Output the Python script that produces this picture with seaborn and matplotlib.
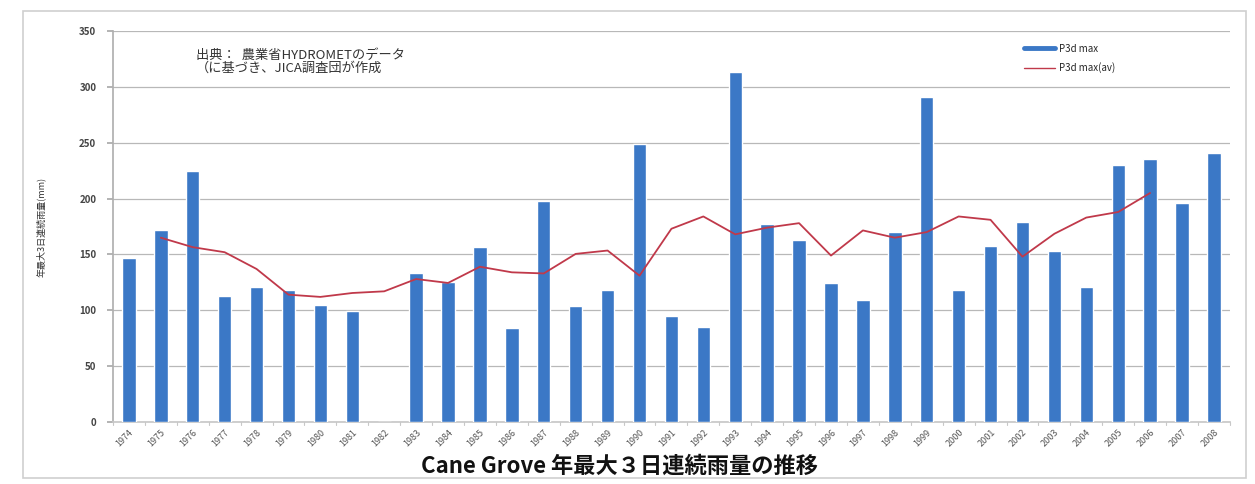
import matplotlib
matplotlib.use("Agg")
import matplotlib.pyplot as plt
from matplotlib.lines import Line2D
import seaborn as sns
import pandas as pd

# Annual maximum 3-day rainfall at Cane Grove
years = [str(y) for y in range(1974, 2009)]
p3d_max = [147, 172, 225, 113, 121, 118, 105, 99, 0, 133, 125, 157, 84,
           198, 104, 118, 249, 95, 85, 313, 177, 163, 124, 109, 170,
           291, 118, 158, 179, 153, 121, 230, 235, 196, 241]

# Moving average, available 1975-2006
avg_years = [str(y) for y in range(1975, 2007)]
p3d_avg = [165, 156.5, 152, 137, 114, 112, 115.5, 117, 128, 124.5, 139, 134,
           133, 150.5, 153.5, 131, 173, 184, 168, 174, 178, 149, 171.5, 165,
           170, 184, 181, 148, 168.5, 183, 188, 205]

y_ticks = [0, 50, 100, 150, 200, 250, 300, 350]

sns.set_theme(style="white")
plt.rcParams["font.family"] = ["Noto Sans CJK JP", "DejaVu Sans"]

BAR = "#3b78c6"
LINE = "#c0394a"

fig = plt.figure(figsize=(12.55, 4.84), dpi=100)
ax = fig.add_axes([0.090, 0.128, 0.890, 0.808])

df = pd.DataFrame({"year": years, "value": p3d_max})
sns.barplot(data=df, x="year", y="value", color=BAR, saturation=1,
            width=0.42, ax=ax, zorder=3)

pos = [years.index(y) for y in avg_years]
sns.lineplot(x=pos, y=p3d_avg, color=LINE, linewidth=1.3, ax=ax,
             legend=False, zorder=4)

ax.set_xlim(-0.5, len(years) - 0.5)
ax.set_ylim(0, 350)
ax.set_yticks(y_ticks)
ax.set_yticklabels([str(v) for v in y_ticks], fontsize=7, color="#444444",
                   fontweight="bold")
ax.yaxis.grid(True, color="#b8b8b8", linewidth=0.9, zorder=0)
ax.set_axisbelow(True)

ax.set_xticks(range(len(years)))
ax.set_xticklabels(years, rotation=45, ha="right", rotation_mode="anchor",
                   fontsize=6.5, color="#555555")
ax.tick_params(axis="x", length=0, pad=4)
ax.tick_params(axis="y", length=4, color="#aaaaaa", left=True, pad=8)

for s in ["top", "right"]:
    ax.spines[s].set_visible(False)
ax.spines["left"].set_color("#b0b0b0")
ax.spines["bottom"].set_color("#c8c8c8")

ax.set_xlabel("")
ax.set_ylabel("年最大3日連続雨量(mm)", fontsize=6.5, color="#333333", labelpad=24)

# Separator ticks between categories
for i in range(len(years) + 1):
    ax.plot([i - 0.5, i - 0.5], [0, -3], color="#c8c8c8", linewidth=0.8,
            clip_on=False, zorder=2)

ax.text(0.074, 0.955, "出典：  農業省HYDROMETのデータ\n（に基づき、JICA調査団が作成",
        transform=ax.transAxes, fontsize=9.5, color="#333333", va="top",
        linespacing=1.0)

handles = [Line2D([0], [0], color=BAR, linewidth=3.5),
           Line2D([0], [0], color=LINE, linewidth=1.0)]
ax.legend(handles, ["P3d max", "P3d max(av)"], loc="upper right",
          bbox_to_anchor=(0.905, 0.99), frameon=False, fontsize=7,
          handlelength=3.2, handletextpad=0.4, labelspacing=0.9)

fig.text(0.494, 0.036, "Cane Grove 年最大３日連続雨量の推移", ha="center",
         va="center", fontsize=16, fontweight="bold", color="#111111")

# Chart frame
fig.patches.append(plt.Rectangle((0.018, 0.012), 0.975, 0.965,
                                 transform=fig.transFigure, fill=False,
                                 edgecolor="#cfcfcf", linewidth=1.2))

fig.savefig("out.png", dpi=100)
